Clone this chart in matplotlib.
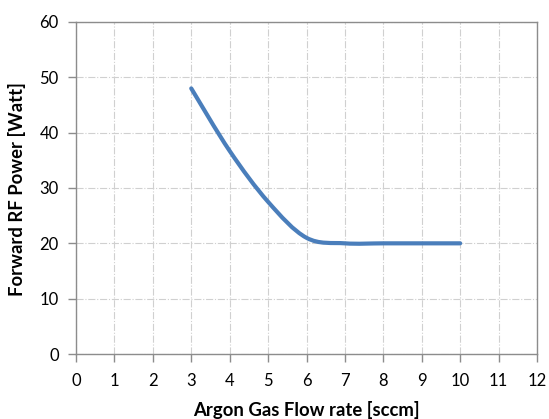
import matplotlib
matplotlib.use("Agg")
import matplotlib.pyplot as plt
from matplotlib.path import Path
from matplotlib.patches import PathPatch
import numpy as np

flow = [3, 4, 5, 6, 7, 8, 9, 10]
power = [48, 36.7, 27.5, 21.0, 20.0, 20.0, 20.0, 20.0]
xticks = list(range(0, 13))
yticks = list(range(0, 61, 10))

plt.rcParams['font.family'] = ['Lato', 'DejaVu Sans']

fig = plt.figure(figsize=(5.49, 4.19), dpi=100)
ax = fig.add_axes([76/549, 1-354/419, (537-76)/549, (354-22)/419])

# Excel-style smoothed line (Bezier through the data points)
P = np.column_stack([flow, power]).astype(float)
verts = [tuple(P[0])]
codes = [Path.MOVETO]
n = len(P)
for i in range(n - 1):
    p0 = P[i - 1] if i > 0 else P[i]
    p1 = P[i]
    p2 = P[i + 1]
    p3 = P[i + 2] if i + 2 < n else P[i + 1]
    c1 = p1 + (p2 - p0) / 6.0
    c2 = p2 - (p3 - p1) / 6.0
    verts += [tuple(c1), tuple(c2), tuple(p2)]
    codes += [Path.CURVE4] * 3
patch = PathPatch(Path(verts, codes), facecolor='none', edgecolor='#4A7EBB',
                  linewidth=3.0, capstyle='round', joinstyle='round', zorder=3)
ax.add_patch(patch)

ax.set_xlim(0, 12)
ax.set_ylim(0, 60)
ax.set_xticks(xticks)
ax.set_yticks(yticks)
ax.grid(True, color='#D0D0D0', linestyle='-.', linewidth=0.8)
ax.set_axisbelow(True)
for s in ax.spines.values():
    s.set_color('#8C8C8C')
    s.set_linewidth(1.0)
ax.tick_params(axis='both', direction='out', length=5.5, width=1.0, color='#8C8C8C',
               labelsize=12, labelcolor='black')
ax.tick_params(axis='x', pad=8)
ax.tick_params(axis='y', pad=7)

fig.text(306/549, 1-410/419, 'Argon Gas Flow rate [sccm]', ha='center', va='center',
         fontsize=13.3, fontweight='bold')
fig.text(17.5/549, 1-189/419, 'Forward RF Power [Watt]', ha='center', va='center',
         rotation=90, fontsize=13.3, fontweight='bold')

fig.savefig('out.png', dpi=100)
